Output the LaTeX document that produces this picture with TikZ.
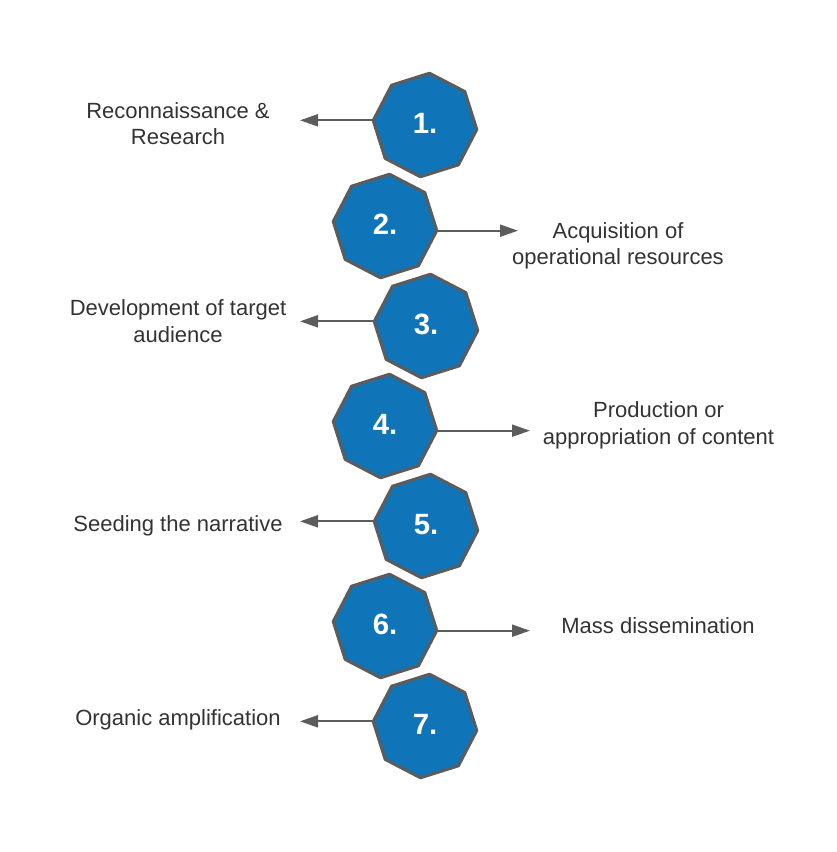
\documentclass[tikz,border=0pt]{standalone}
\usepackage{fontspec}
\setmainfont{Liberation Sans}
\usetikzlibrary{shapes.geometric,arrows.meta}
\definecolor{stageblue}{RGB}{16,116,185}
\definecolor{edgegray}{RGB}{92,92,92}
\definecolor{textgray}{RGB}{51,51,51}
\begin{document}
\begin{tikzpicture}[x=0.75pt,y=-0.75pt,
	stage/.style={regular polygon,regular polygon sides=8,shape border rotate=17.5,
		minimum size=78pt,inner sep=0pt,fill=stageblue,draw=edgegray,line width=2.25pt,
		line join=round,text=white,font=\fontsize{22}{26}\selectfont\bfseries},
	stagetext/.style={align=center,inner sep=0pt,text=textgray,
		font=\fontsize{16.5}{19.8}\selectfont},
	pointer/.style={draw=edgegray,line width=1.5pt,-{Triangle[length=13.5pt,width=9pt]}}]
	\useasboundingbox (0,0) rectangle (836,852);
	% stages
	\foreach \n/\x/\y in {1/425/125,2/385/226,3/426/326,4/385/426,5/426/526,6/385/626,7/425/726} {
		\node[stage] (s\n) at (\x,\y) {\raisebox{2pt}{\n.}};
	}
	% tips of the pointers
	\coordinate (tl) at (300,0);
	\coordinate (tr) at (518,0);
	\coordinate (tra) at (530,0);
	% texts
	\node[stagetext] (t1) at (178,123.5) {Reconnaissance \&\\Research};
	\node[stagetext] (t2) at (618,246) {Acquisition of\\operational resources};
	\node[stagetext] (t3) at (178,321) {Development of target\\audience};
	\node[stagetext] (t4) at (658.5,425.5) {Production or\\appropriation of content};
	\node[stagetext] (t5) at (178,526) {Seeding the narrative};
	\node[stagetext] (t6) at (658,626) {Mass dissemination};
	\node[stagetext] (t7) at (178,720) {Organic amplification};
	% pointers
	\foreach \n in {1,3,5,7} {
		\draw[pointer] (s\n.corner 3) -- (s\n.corner 3 -| tl);
	}
	\draw[pointer] (s2.corner 7) -- (s2.corner 7 -| tr);
	\draw[pointer] (s4.corner 7) -- (s4.corner 7 -| tra);
	\draw[pointer] (s6.corner 7) -- (s6.corner 7 -| tra);
\end{tikzpicture}
\end{document}
